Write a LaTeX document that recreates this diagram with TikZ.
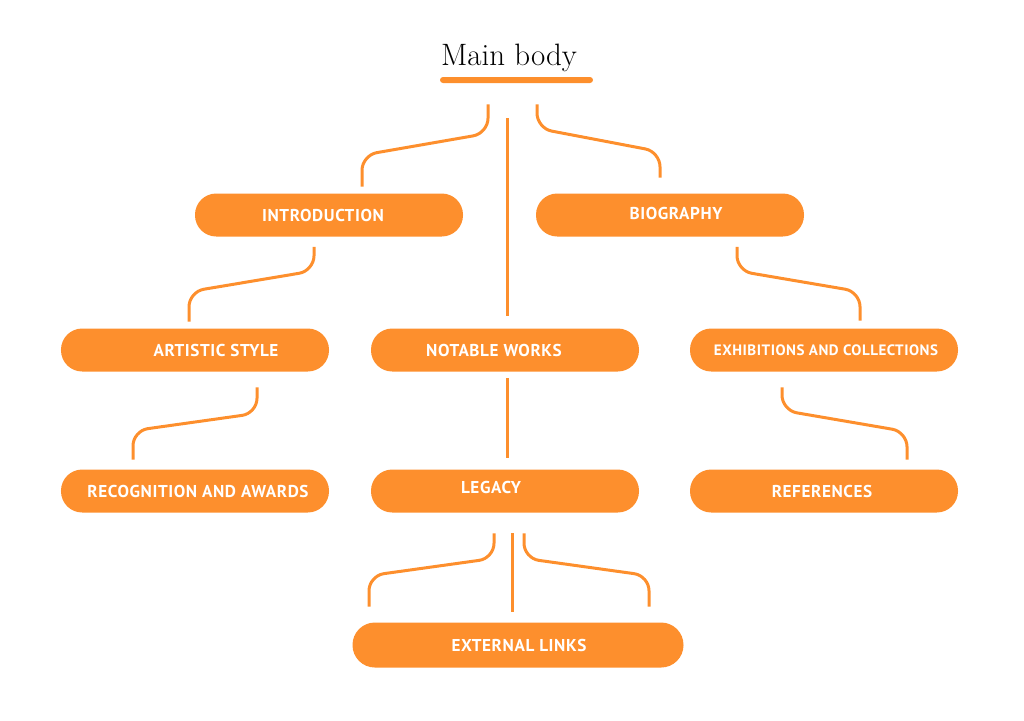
\documentclass[tikz,border=0pt]{standalone}
\usepackage{fontspec}
\newfontfamily\pillfont{PT Sans}[LetterSpace=3.5]
\usetikzlibrary{calc}

\definecolor{tangerine}{RGB}{253,143,45}

\begin{document}
\begin{tikzpicture}[
    x=0.25mm, y=-0.25mm,
    link/.style={draw=tangerine, line width=0.75mm, rounded corners=3.75mm},
    pill/.style={
        fill=tangerine,
        rounded corners=5.3mm,
        minimum width=67mm,
        minimum height=10.75mm,
        inner sep=0pt
    },
    pilltext/.style={
        text=white,
        font=\pillfont\bfseries\fontsize{12.2}{14}\selectfont
    },
    titlebar/.style={
        fill=tangerine,
        rounded corners=0.75mm,
        minimum width=38.25mm,
        minimum height=1.5mm,
        inner sep=0pt
    }
]
\useasboundingbox (0,0) rectangle (1024,720);

% title and its bar
\node[titlebar] (bar) at (516.5,80) {};
\node[anchor=base, font=\fontsize{22}{25}\selectfont] (title) at (509,65) {Main body};

% first row
\node[pill, label={[pilltext, xshift=-1.5mm]center:INTRODUCTION}] (intro) at (329,215) {};
\node[pill, label={[pilltext, xshift=1.5mm, yshift=0.5mm]center:BIOGRAPHY}] (bio) at (670,215) {};

% second row
\node[pill, label={[pilltext, xshift=5.25mm]center:ARTISTIC STYLE}] (art) at (195,350) {};
\node[pill, label={[pilltext, xshift=-2.75mm]center:NOTABLE WORKS}] (works) at (505,350) {};
\node[pill, label={[pilltext, xshift=0.5mm, font=\pillfont\bfseries\fontsize{10.7}{13}\selectfont]center:EXHIBITIONS AND COLLECTIONS}] (exh) at (824,350) {};

% third row
\node[pill, label={[pilltext, xshift=0.75mm]center:RECOGNITION AND AWARDS}] (rec) at (195,491) {};
\node[pill, label={[pilltext, xshift=-3.5mm, yshift=1mm]center:LEGACY}] (legacy) at (505,491) {};
\node[pill, label={[pilltext, xshift=-0.5mm]center:REFERENCES}] (refs) at (824,491) {};

% last one
\node[pill, minimum width=82.75mm, minimum height=11.25mm, rounded corners=5.6mm,
    label={[pilltext, xshift=0.25mm]center:EXTERNAL LINKS}] (links) at (518,645) {};

% connectors from the title
\draw[link] ($(bar.south)+(-28.5,21)$) -- ++(0,29) -- ($(intro.north)+(33,-38)$) -- ++(0,31.5);
\draw[link] ($(bar.south)+(-9.5,35)$) -- ($(works.north)+(2,-12)$);
\draw[link] ($(bar.south)+(20.5,21)$) -- ++(0,24) -- ($(bio.north)+(-10,-41.5)$) -- ++(0,26);

% first row to second row
\draw[link] ($(intro.south)+(-15,10)$) -- ++(0,24) -- ($(art.north)+(-6,-36.5)$) -- ++(0,30);
\draw[link] ($(bio.south)+(67,10)$) -- ++(0,24) -- ($(exh.north)+(36,-36.5)$) -- ++(0,29);

% second row to third row
\draw[link] ($(art.south)+(62,15.5)$) -- ++(0,26) -- ($(rec.north)+(-62,-38.5)$) -- ++(0,29);
\draw[link] ($(works.south)+(2,6.5)$) -- ($(legacy.north)+(2,-11.5)$);
\draw[link] ($(exh.south)+(-42,15.5)$) -- ++(0,23) -- ($(refs.north)+(83,-37.5)$) -- ++(0,28);

% legacy to external links
\draw[link] ($(legacy.south)+(-11,20.5)$) -- ++(0,25) -- ($(links.north)+(-149,-46.5)$) -- ++(0,31);
\draw[link] ($(legacy.south)+(7,20.5)$) -- ($(links.north)+(-6,-10.5)$);
\draw[link] ($(legacy.south)+(19,20.5)$) -- ++(0,25) -- ($(links.north)+(131,-46.5)$) -- ++(0,31);

\end{tikzpicture}
\end{document}
